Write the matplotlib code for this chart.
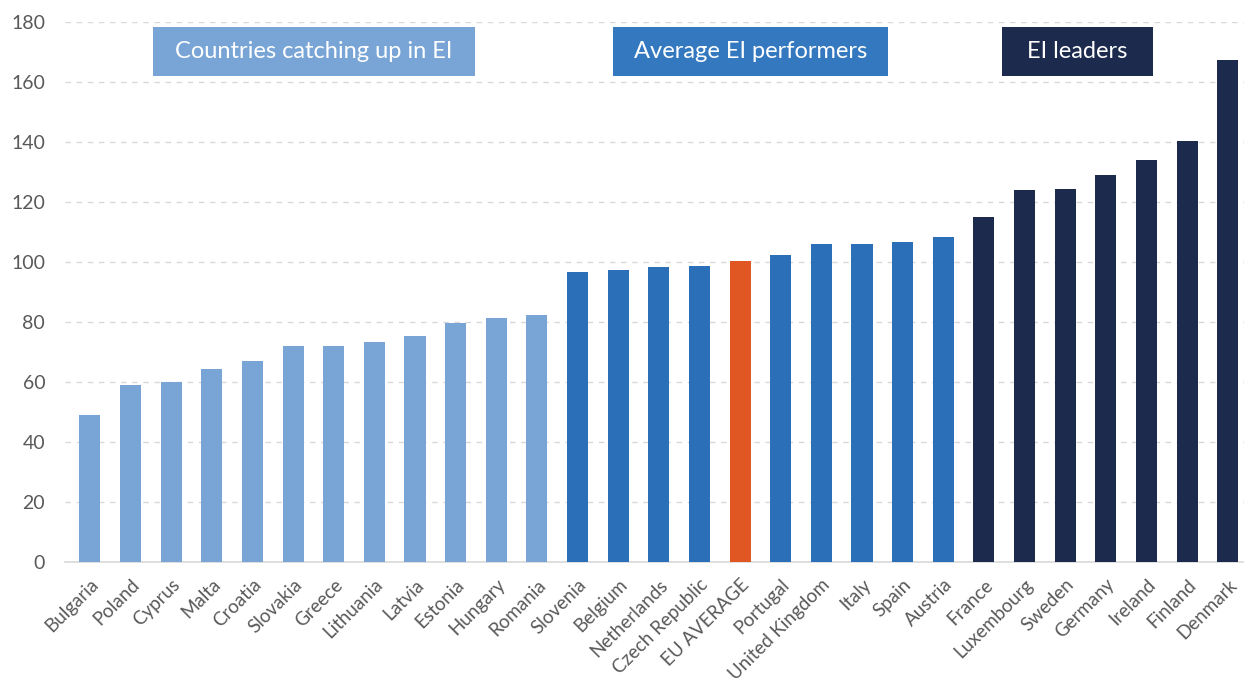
import matplotlib
matplotlib.use("Agg")
import matplotlib.pyplot as plt
from matplotlib.patches import Rectangle

countries = ["Bulgaria", "Poland", "Cyprus", "Malta", "Croatia", "Slovakia", "Greece",
             "Lithuania", "Latvia", "Estonia", "Hungary", "Romania", "Slovenia", "Belgium",
             "Netherlands", "Czech Republic", "EU AVERAGE", "Portugal", "United Kingdom",
             "Italy", "Spain", "Austria", "France", "Luxembourg", "Sweden", "Germany",
             "Ireland", "Finland", "Denmark"]
values = [49, 59, 60, 64.3, 67, 72.1, 72, 73.2, 75.3, 79.8, 81.2, 82.2, 96.7, 97.2,
          98.2, 98.8, 100.2, 102.2, 106.1, 106.1, 106.7, 108.2, 115.1, 124, 124.5,
          128.9, 134, 140.4, 167.3]
groups = ["catch"] * 12 + ["avg"] * 4 + ["eu"] + ["avg"] * 5 + ["lead"] * 7
group_colors = {"catch": "#78a5d5", "avg": "#2a6fb7", "eu": "#e05723", "lead": "#1c2b4d"}
yticks = [0, 20, 40, 60, 80, 100, 120, 140, 160, 180]

group_labels = ["Countries catching up in EI", "Average EI performers", "EI leaders"]
label_colors = ["#78a5d5", "#3479bf", "#1c2b4d"]
label_spans = [(1.55, 9.47), (12.87, 19.64), (22.44, 26.16)]

plt.rcParams['font.family'] = ['Lato', 'DejaVu Sans']

fig = plt.figure(figsize=(12.44, 6.88), dpi=100)
ax = fig.add_axes([0.052, 0.183, 0.948, 0.785])

x = list(range(len(countries)))
ax.bar(x, values, width=0.52, color=[group_colors[g] for g in groups], zorder=3)

ax.set_xlim(-0.62, 28.4)
ax.set_ylim(0, 180)
ax.set_yticks(yticks)
ax.set_yticklabels([str(v) for v in yticks], fontsize=14, color="#595959")
ax.yaxis.grid(True, linestyle=(0, (4, 4)), color="#d9d9d9", linewidth=1, zorder=0)
ax.set_axisbelow(True)

ax.set_xticks(x)
ax.set_xticklabels(countries, rotation=45, ha="right", rotation_mode="anchor",
                   fontsize=13.5, color="#595959")
ax.tick_params(axis="both", length=0)
ax.tick_params(axis="x", pad=10)
ax.tick_params(axis="y", pad=14)

for s in ["top", "right", "left"]:
    ax.spines[s].set_visible(False)
ax.spines["bottom"].set_color("#d9d9d9")
ax.spines["bottom"].set_linewidth(1.2)

for lab, col, (x0, x1) in zip(group_labels, label_colors, label_spans):
    ax.add_patch(Rectangle((x0, 162), x1 - x0, 16.3, facecolor=col, edgecolor="none",
                           zorder=4, clip_on=False))
    ax.text((x0 + x1) / 2, 170.2, lab, ha="center", va="center", color="white",
            fontsize=17, zorder=5)

fig.savefig("out.png", dpi=100)
